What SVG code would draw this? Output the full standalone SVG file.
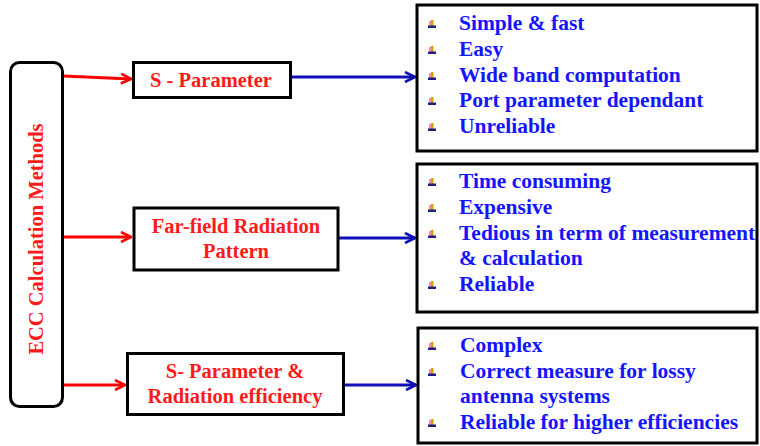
<svg xmlns="http://www.w3.org/2000/svg" xmlns:xlink="http://www.w3.org/1999/xlink" width="760" height="446" viewBox="0 0 760 446">
  <style>
    .box { fill: #ffffff; stroke: #000000; stroke-width: 3; }
    .lbl { font-family: "Liberation Serif", "Times New Roman", serif; font-weight: bold; font-size: 20.5px; fill: #ff1a1a; text-anchor: middle; }
    .item { font-family: "Liberation Serif", "Times New Roman", serif; font-weight: bold; font-size: 21.5px; fill: #1414ff; }
    .red { stroke: #ff0000; stroke-width: 3; fill: none; }
    .blue { stroke: #1010b8; stroke-width: 3; fill: none; }
  </style>
  <defs>
    <marker id="headRed" viewBox="0 0 12 12" refX="11" refY="6" markerWidth="12" markerHeight="12" markerUnits="userSpaceOnUse" orient="auto">
      <polyline points="1,1 11,6 1,11" fill="none" stroke="#ff0000" stroke-width="2.6"/>
    </marker>
    <marker id="headBlue" viewBox="0 0 12 12" refX="11" refY="6" markerWidth="12" markerHeight="12" markerUnits="userSpaceOnUse" orient="auto">
      <polyline points="1,1 11,6 1,11" fill="none" stroke="#1010b8" stroke-width="2.6"/>
    </marker>
    <!-- small bullet glyph: upright bar on a base -->
    <g id="bullet">
      <rect x="-3" y="-7" width="2" height="5" fill="#ff9090"/>
      <rect x="-1" y="-8" width="2.5" height="6" fill="#d8a000"/>
      <rect x="-4" y="-2.5" width="8" height="2.5" fill="#20207a"/>
    </g>
  </defs>

  <rect width="760" height="446" fill="#ffffff"/>

  <!-- connectors -->
  <g id="connectors">
    <line class="red" x1="63" y1="76" x2="131" y2="79" marker-end="url(#headRed)"/>
    <line class="red" x1="63" y1="237" x2="131" y2="237" marker-end="url(#headRed)"/>
    <line class="red" x1="63" y1="385" x2="125" y2="385" marker-end="url(#headRed)"/>
    <line class="blue" x1="291" y1="77" x2="415" y2="77" marker-end="url(#headBlue)"/>
    <line class="blue" x1="339" y1="238" x2="415" y2="238" marker-end="url(#headBlue)"/>
    <line class="blue" x1="344" y1="385" x2="416" y2="385" marker-end="url(#headBlue)"/>
  </g>

  <!-- root -->
  <g id="ecc-methods">
    <rect class="box" x="10.5" y="62.5" width="52" height="344" rx="9" ry="9"/>
    <text class="lbl" transform="translate(43,239) rotate(-90)">ECC Calculation Methods</text>
  </g>

  <!-- methods -->
  <g id="s-parameter">
    <rect class="box" x="133.5" y="62.5" width="157" height="35"/>
    <text class="lbl" x="211" y="87">S - Parameter</text>
  </g>
  <g id="far-field">
    <rect class="box" x="134" y="208" width="204" height="62"/>
    <text class="lbl" x="236" y="233">Far-field Radiation</text>
    <text class="lbl" x="236" y="258">Pattern</text>
  </g>
  <g id="s-param-efficiency">
    <rect class="box" x="127.5" y="353.5" width="216" height="61"/>
    <text class="lbl" x="235" y="378">S- Parameter &amp;</text>
    <text class="lbl" x="235" y="403">Radiation efficiency</text>
  </g>

  <!-- properties -->
  <g id="s-parameter-props">
    <rect class="box" x="417" y="5" width="340" height="146"/>
    <use xlink:href="#bullet" x="432" y="28"/>
    <use xlink:href="#bullet" x="432" y="54"/>
    <use xlink:href="#bullet" x="432" y="80"/>
    <use xlink:href="#bullet" x="432" y="105"/>
    <use xlink:href="#bullet" x="432" y="131"/>
    <text class="item" x="459" y="30">Simple &amp; fast</text>
    <text class="item" x="459" y="56">Easy</text>
    <text class="item" x="459" y="82">Wide band computation</text>
    <text class="item" x="459" y="107">Port parameter dependant</text>
    <text class="item" x="459" y="133">Unreliable</text>
  </g>
  <g id="far-field-props">
    <rect class="box" x="417" y="164" width="340" height="148"/>
    <use xlink:href="#bullet" x="432" y="186"/>
    <use xlink:href="#bullet" x="432" y="212"/>
    <use xlink:href="#bullet" x="432" y="238"/>
    <use xlink:href="#bullet" x="432" y="289"/>
    <text class="item" x="459" y="188">Time consuming</text>
    <text class="item" x="459" y="214">Expensive</text>
    <text class="item" x="459" y="240">Tedious in term of measurement</text>
    <text class="item" x="459" y="265">&amp; calculation</text>
    <text class="item" x="459" y="291">Reliable</text>
  </g>
  <g id="s-param-efficiency-props">
    <rect class="box" x="418" y="328" width="339" height="115"/>
    <use xlink:href="#bullet" x="432" y="350"/>
    <use xlink:href="#bullet" x="432" y="376"/>
    <use xlink:href="#bullet" x="432" y="427"/>
    <text class="item" x="460" y="352">Complex</text>
    <text class="item" x="460" y="378">Correct measure for lossy</text>
    <text class="item" x="460" y="403">antenna systems</text>
    <text class="item" x="460" y="429">Reliable for higher efficiencies</text>
  </g>
</svg>
